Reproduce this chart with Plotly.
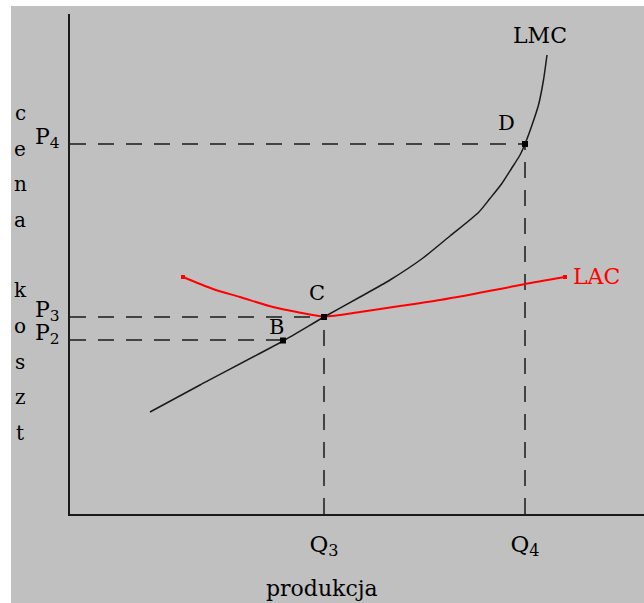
import plotly.graph_objects as go

# ---- data (arbitrary units) ----
q_labels = ["Q<sub>3</sub>", "Q<sub>4</sub>"]
q_values = [5.08, 9.10]
p_labels = ["P<sub>2</sub>", "P<sub>3</sub>", "P<sub>4</sub>"]
p_values = [3.48, 3.94, 7.40]

lmc_x = [1.60, 2.60, 4.26, 5.08, 5.80, 6.40, 7.06, 7.60, 8.17, 8.40, 8.63, 8.83, 9.00, 9.10,
         9.23, 9.37, 9.47, 9.54]
lmc_y = [2.04, 2.58, 3.46, 3.94, 4.34, 4.68, 5.12, 5.56, 6.03, 6.31, 6.60, 6.91, 7.18, 7.40,
         7.75, 8.18, 8.68, 9.18]

lac_x = [2.26, 2.86, 3.40, 4.06, 4.54, 5.08, 5.80, 6.60, 7.40, 8.60, 9.10, 9.90]
lac_y = [4.74, 4.50, 4.34, 4.14, 4.04, 3.95, 4.04, 4.16, 4.28, 4.50, 4.60, 4.74]

point_names = ["B", "C", "D"]
point_x = [4.26, 5.08, 9.10]
point_y = [3.47, 3.94, 7.40]

y_title = "cena koszt"
x_title = "produkcja"

FONT = "DejaVu Serif"
INK = "#1a1a1a"

fig = go.Figure()

# dashed guide lines: horizontal from axis to points, vertical from C and D to axis
guide_h = [(0, point_x[0], p_values[0]), (0, point_x[1], p_values[1]), (0, point_x[2], p_values[2])]
for x0, x1, yv in guide_h:
    fig.add_trace(go.Scatter(x=[x0, x1], y=[yv, yv], mode="lines",
                             line=dict(color=INK, width=1.5, dash="16px,12px"),
                             hoverinfo="skip", showlegend=False))
for qx, py in zip(q_values, [p_values[1], p_values[2]]):
    fig.add_trace(go.Scatter(x=[qx, qx], y=[0, py], mode="lines",
                             line=dict(color=INK, width=1.5, dash="16px,12px"),
                             hoverinfo="skip", showlegend=False))

# LAC curve (red)
fig.add_trace(go.Scatter(x=lac_x, y=lac_y, mode="lines", name="LAC",
                         line=dict(color="#ff0000", width=2, shape="spline", smoothing=0.7),
                         showlegend=False))
fig.add_trace(go.Scatter(x=[lac_x[0], lac_x[-1]], y=[lac_y[0], lac_y[-1]], mode="markers",
                         marker=dict(color="#ff0000", size=4, symbol="square"),
                         hoverinfo="skip", showlegend=False))

# LMC curve (black)
fig.add_trace(go.Scatter(x=lmc_x, y=lmc_y, mode="lines", name="LMC",
                         line=dict(color=INK, width=1.5, shape="spline", smoothing=0.6),
                         showlegend=False))

# points B, C, D
fig.add_trace(go.Scatter(x=point_x, y=point_y, mode="markers",
                         marker=dict(color="#000000", size=6, symbol="square"),
                         showlegend=False))

annotations = []
shifts = {"B": (-7, 14), "C": (-7, 24), "D": (-19, 21)}
for n, px, py in zip(point_names, point_x, point_y):
    dx, dy = shifts[n]
    annotations.append(dict(x=px, y=py, xref="x", yref="y", text=n, showarrow=False,
                            xshift=dx, yshift=dy, font=dict(family=FONT, size=21, color="#000")))

annotations.append(dict(x=lmc_x[-1], y=lmc_y[-1], xref="x", yref="y", text="LMC", showarrow=False,
                        xshift=-7, yshift=20, font=dict(family=FONT, size=22, color="#000")))
annotations.append(dict(x=lac_x[-1], y=lac_y[-1], xref="x", yref="y", text="LAC", showarrow=False,
                        xanchor="left", xshift=6, yshift=1,
                        font=dict(family=FONT, size=22, color="#ff0000")))

# vertical axis title, one letter per line
top_px, step_px = 113, 35.5
for i, ch in enumerate(y_title):
    if ch == " ":
        continue
    ypx = top_px + i * step_px
    annotations.append(dict(x=(20 - 70) / 574, y=(514 - ypx) / 500, xref="paper", yref="paper",
                            text=ch, showarrow=False, xanchor="center", yanchor="middle",
                            font=dict(family=FONT, size=20, color="#000")))

annotations.append(dict(x=(322 - 70) / 574, y=(514 - 588) / 500, xref="paper", yref="paper",
                        text=x_title, showarrow=False, xanchor="center", yanchor="middle",
                        font=dict(family=FONT, size=22, color="#000")))

shapes = [
    # white frame strips (left and top)
    dict(type="rect", xref="paper", yref="paper", x0=-70 / 574, x1=(11 - 70) / 574,
         y0=-89 / 500, y1=514 / 500, fillcolor="white", line=dict(width=0), layer="below"),
    dict(type="rect", xref="paper", yref="paper", x0=-70 / 574, x1=1,
         y0=(514 - 6) / 500, y1=514 / 500, fillcolor="white", line=dict(width=0), layer="below"),
]

fig.update_layout(
    width=644, height=603,
    margin=dict(l=70, r=0, t=14, b=89, pad=0),
    paper_bgcolor="#c0c0c0", plot_bgcolor="#c0c0c0",
    showlegend=False,
    annotations=annotations, shapes=shapes,
    xaxis=dict(range=[0, 574 / 50], showline=True, linecolor=INK, linewidth=2,
               showgrid=False, zeroline=False, ticks="",
               tickvals=q_values, ticktext=q_labels, ticklabelstandoff=8,
               tickfont=dict(family=FONT, size=23, color="#000")),
    yaxis=dict(range=[0, 10], showline=True, linecolor=INK, linewidth=2,
               showgrid=False, zeroline=False, ticks="",
               tickvals=p_values, ticktext=p_labels, ticklabelshift=-8, ticklabelstandoff=4,
               tickfont=dict(family=FONT, size=22, color="#000")),
)

fig.write_html("out.html",
               config={"displayModeBar": False},
               post_script="document.body.style.margin='0';document.body.style.padding='0';"
                           "document.body.style.overflow='hidden';")
